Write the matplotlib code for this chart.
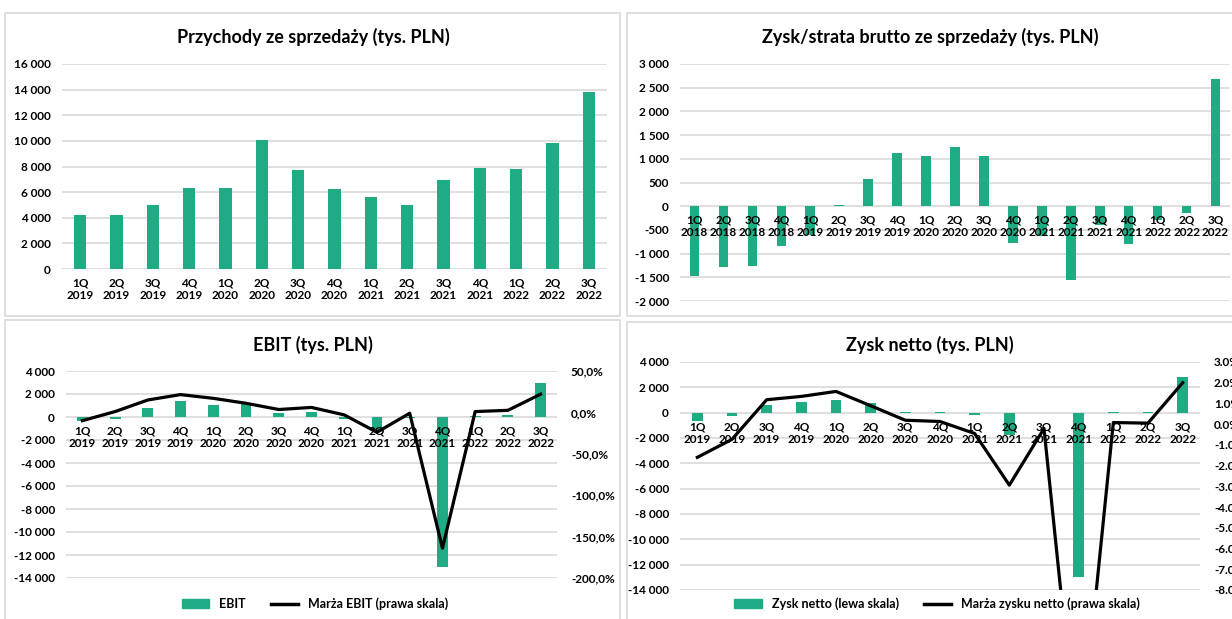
import matplotlib
matplotlib.use('Agg')
import matplotlib.pyplot as plt
from matplotlib.patches import Rectangle
from matplotlib.lines import Line2D
from matplotlib.ticker import FuncFormatter, MultipleLocator

plt.rcParams['font.family'] = ['Lato', 'DejaVu Sans']
plt.rcParams['font.weight'] = 'bold'

# quarters
quarters_19_22 = ['1Q\n2019', '2Q\n2019', '3Q\n2019', '4Q\n2019',
                  '1Q\n2020', '2Q\n2020', '3Q\n2020', '4Q\n2020',
                  '1Q\n2021', '2Q\n2021', '3Q\n2021', '4Q\n2021',
                  '1Q\n2022', '2Q\n2022', '3Q\n2022']
quarters_18_22 = ['1Q\n2018', '2Q\n2018', '3Q\n2018', '4Q\n2018'] + quarters_19_22

# data (tys. PLN)
revenue = [4200, 4200, 5000, 6300, 6300, 10050, 7700, 6250,
           5650, 5000, 6950, 7900, 7800, 9800, 13850]
gross_profit = [-1480, -1280, -1260, -850, -600, 30, 570, 1120, 1050, 1250,
                1050, -780, -620, -1550, -400, -790, -300, -140, 2690]
ebit = [-350, -150, 800, 1380, 1080, 1200, 350, 430,
        -200, -1200, -100, -13000, 50, 200, 3000]
ebit_margin = [-10, 1, 15, 21.5, 17, 11, 3.5, 6,
               -3, -24, -1, -164, 1, 2.5, 22]
net_profit = [-650, -300, 600, 850, 1000, 800, 80, 60,
              -200, -1800, -60, -13000, 60, 50, 2850]
net_margin = [-1.6, -0.73, 1.18, 1.34, 1.58, 0.89, 0.19, 0.13,
              -0.45, -2.94, -0.21, -16.4, 0.08, 0.05, 2.0]

GREEN = '#1fab83'
GRID = '#d9d9d9'
W, H = 1232, 619
FS = 8.5

fig = plt.figure(figsize=(W / 100, H / 100), dpi=100)


def px_axes(x0, y0, x1, y1):
    return fig.add_axes([x0 / W, 1 - y1 / H, (x1 - x0) / W, (y1 - y0) / H])


def frame(x0, y0, x1, y1):
    fig.patches.append(Rectangle((x0 / W, 1 - y1 / H), (x1 - x0) / W, (y1 - y0) / H,
                                 transform=fig.transFigure, facecolor='white',
                                 edgecolor=GRID, linewidth=1.2, zorder=-10))


def thousands(v, pos):
    s = f'{abs(int(round(v))):,}'.replace(',', ' ')
    return ('-' if v < 0 else '') + s


def style(ax, labels, lo, hi, step):
    ax.set_xlim(-0.5, len(labels) - 0.5)
    ax.set_ylim(lo, hi)
    ax.yaxis.set_major_locator(MultipleLocator(step))
    ax.yaxis.set_major_formatter(FuncFormatter(thousands))
    ax.set_xticks(list(range(len(labels))))
    ax.set_xticklabels(labels, linespacing=1.3)
    ax.spines['bottom'].set_position(('data', 0))
    for s in ['top', 'right', 'left', 'bottom']:
        ax.spines[s].set_visible(False)
    # gridlines behind bars, tick labels above them
    for y in ax.get_yticks():
        if lo <= y <= hi:
            ax.axhline(y, color=GRID, linewidth=1.2, zorder=0)
    ax.tick_params(axis='x', length=0, pad=6, labelsize=FS)
    ax.tick_params(axis='y', length=0, pad=8, labelsize=FS)


def right_axis(ax, values, lo, hi, step, fmt):
    axr = ax.twinx()
    axr.plot(range(len(values)), values, color='black', linewidth=2.3)
    axr.set_ylim(lo, hi)
    axr.yaxis.set_major_locator(MultipleLocator(step))
    axr.yaxis.set_major_formatter(FuncFormatter(fmt))
    axr.tick_params(axis='y', length=0, pad=10, labelsize=FS)
    for s in axr.spines.values():
        s.set_visible(False)
    return axr


def legend(labels, cx):
    fig.legend(handles=[Rectangle((0, 0), 1, 1, color=GREEN),
                        Line2D([], [], color='black', linewidth=2.5)],
               labels=labels, loc='center', bbox_to_anchor=(cx / W, 1 - 604 / H), ncol=2,
               frameon=False, fontsize=9, handlelength=2.2, columnspacing=2.0)


frame(5, 13, 620, 316)
frame(627, 13, 1240, 316)
frame(5, 320, 620, 625)
frame(627, 322, 1240, 625)

# Panel 1
ax1 = px_axes(62, 64, 607, 269)
ax1.bar(range(len(revenue)), revenue, width=0.34, color=GREEN)
style(ax1, quarters_19_22, 0, 16000, 2000)
fig.text(313 / W, 1 - 37 / H, 'Przychody ze sprzedaży (tys. PLN)', ha='center', va='center', fontsize=13)

# Panel 2
ax2 = px_axes(680, 64, 1230, 301)
ax2.bar(range(len(gross_profit)), gross_profit, width=0.33, color=GREEN)
style(ax2, quarters_18_22, -2000, 3000, 500)
fig.text(930 / W, 1 - 37 / H, 'Zysk/strata brutto ze sprzedaży (tys. PLN)', ha='center', va='center', fontsize=13)

# Panel 3
ax3 = px_axes(66, 371, 557, 578)
ax3.bar(range(len(ebit)), ebit, width=0.33, color=GREEN)
style(ax3, quarters_19_22, -14000, 4000, 2000)
right_axis(ax3, ebit_margin, -200, 50, 50, lambda v, p: f'{v:.1f}%'.replace('.', ','))
fig.text(313 / W, 1 - 345 / H, 'EBIT (tys. PLN)', ha='center', va='center', fontsize=13)
legend(['EBIT', 'Marża EBIT (prawa skala)'], 315)

# Panel 4
ax4 = px_axes(680, 362, 1200, 590)
ax4.bar(range(len(net_profit)), net_profit, width=0.3, color=GREEN)
style(ax4, quarters_19_22, -14000, 4000, 2000)
right_axis(ax4, net_margin, -8, 3, 1, lambda v, p: f'{v:.1f}%')
fig.text(930 / W, 1 - 345 / H, 'Zysk netto (tys. PLN)', ha='center', va='center', fontsize=13)
legend(['Zysk netto (lewa skala)', 'Marża zysku netto (prawa skala)'], 937)

fig.savefig('out.png', dpi=100)
